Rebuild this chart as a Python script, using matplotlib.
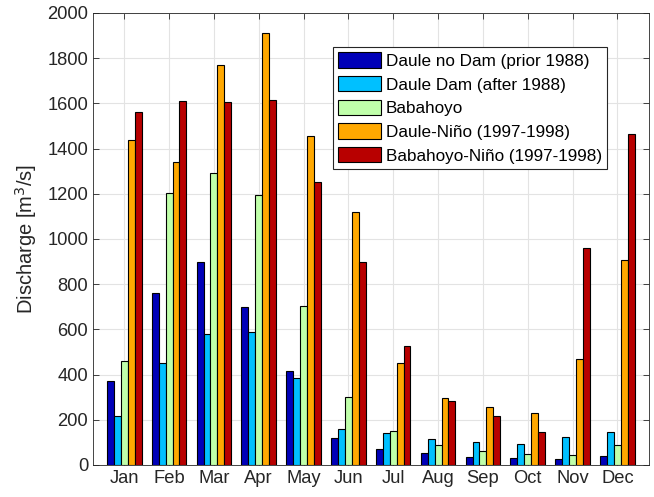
import matplotlib
matplotlib.use("Agg")
import matplotlib.pyplot as plt
import numpy as np

plt.rcParams['font.family'] = ['Liberation Sans', 'DejaVu Sans']

months = ['Jan', 'Feb', 'Mar', 'Apr', 'May', 'Jun', 'Jul', 'Aug', 'Sep', 'Oct', 'Nov', 'Dec']
daule_no_dam = [370, 760, 900, 700, 415, 120, 70, 55, 35, 30, 25, 40]
daule_dam = [215, 450, 580, 590, 385, 160, 140, 115, 100, 95, 125, 145]
babahoyo = [460, 1205, 1290, 1195, 705, 300, 150, 90, 60, 50, 45, 90]
daule_nino = [1440, 1340, 1770, 1910, 1455, 1120, 450, 295, 255, 230, 470, 905]
babahoyo_nino = [1560, 1610, 1605, 1615, 1250, 900, 525, 285, 215, 145, 960, 1465]

series = [daule_no_dam, daule_dam, babahoyo, daule_nino, babahoyo_nino]
labels = ['Daule no Dam (prior 1988)', 'Daule Dam (after 1988)', 'Babahoyo',
          'Daule-Niño (1997-1998)', 'Babahoyo-Niño (1997-1998)']
colors = ['#0000B8', '#00C0FF', '#C0FFAA', '#FFA800', '#B80000']

fig = plt.figure(figsize=(6.54, 4.97), dpi=100)
ax = fig.add_axes([0.142, 0.0644, 0.850, 0.9095])

x = np.arange(1, len(months) + 1)
w = 0.154
for i, (vals, lab, c) in enumerate(zip(series, labels, colors)):
    ax.bar(x + (i - 2) * w, vals, width=w, color=c, edgecolor='black',
           linewidth=0.8, label=lab, zorder=3)

ax.set_xlim(0.3, 12.7)
ax.set_ylim(0, 2000)
ax.set_xticks(x)
ax.set_xticklabels(months)
ax.set_yticks(np.arange(0, 2001, 200))
ax.grid(True, color='#e3e3e3', linewidth=0.8, zorder=0)
ax.set_axisbelow(True)
ax.tick_params(direction='in', top=True, right=True, labelsize=13.2,
               length=4, width=0.6, colors='#262626', labelcolor='#262626')
for s in ax.spines.values():
    s.set_linewidth(0.6)
    s.set_color('#262626')
ax.set_ylabel('Discharge [m$^3$/s]', fontsize=14.5, color='#262626', labelpad=6)

leg = ax.legend(loc='upper left', bbox_to_anchor=(333 / 654, 1 - 47 / 497),
                bbox_transform=fig.transFigure, fontsize=12.3, frameon=True,
                fancybox=False, edgecolor='#262626', framealpha=1,
                handlelength=2.5, handleheight=1.0, labelspacing=0.42,
                borderpad=0.32, handletextpad=0.26, borderaxespad=0)
leg.get_frame().set_linewidth(0.8)

fig.savefig('out.png', dpi=100)
